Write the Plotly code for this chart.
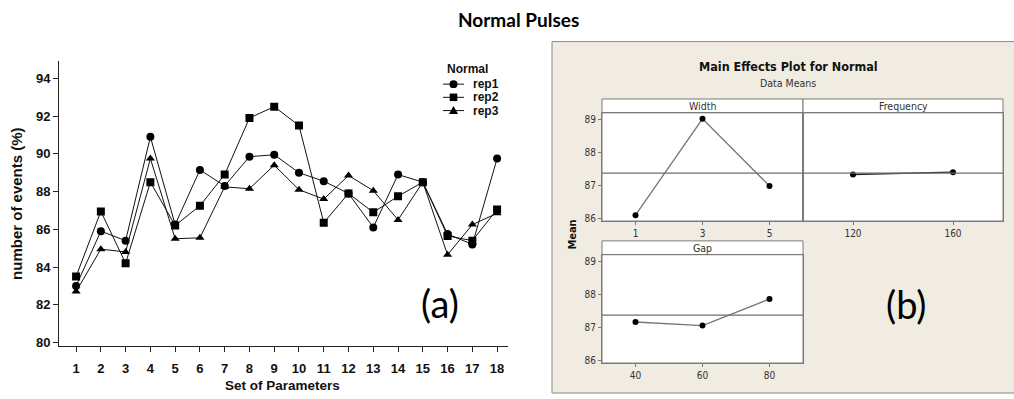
import plotly.graph_objects as go

W, H = 1014, 399

# ---------------- data: panel (a) ----------------
param_sets = list(range(1, 19))
rep1 = [83.0, 85.9, 85.4, 90.9, 86.25, 89.15, 88.3, 89.85, 89.95, 89.0, 88.55, 87.9, 86.1, 88.9, 88.5, 85.75, 85.2, 89.75]
rep2 = [83.5, 86.95, 84.2, 88.5, 86.2, 87.25, 88.9, 91.9, 92.5, 91.5, 86.35, 87.9, 86.9, 87.75, 88.5, 85.65, 85.4, 87.05]
rep3 = [82.7, 84.95, 84.8, 89.75, 85.5, 85.55, 88.25, 88.15, 89.4, 88.1, 87.6, 88.85, 88.05, 86.5, 88.5, 84.65, 86.25, 86.85]
series_names = ["rep1", "rep2", "rep3"]
y_ticks_a = [80, 82, 84, 86, 88, 90, 92, 94]

# ---------------- data: panel (b) ----------------
width_levels = [1, 3, 5]
width_means = [86.09, 89.03, 86.98]
freq_levels = [120, 160]
freq_means = [87.33, 87.40]
gap_levels = [40, 60, 80]
gap_means = [87.16, 87.05, 87.86]
overall_mean = 87.37
y_ticks_b = [86, 87, 88, 89]


def px(x):
    return x / W


def py(y):
    return 1 - y / H


fig = go.Figure()

symbols = ["circle", "square", "triangle-up"]
for name, vals, sym in zip(series_names, [rep1, rep2, rep3], symbols):
    fig.add_trace(go.Scatter(
        x=param_sets, y=vals, name=name, mode="lines+markers",
        line=dict(color="#111111", width=1),
        marker=dict(symbol=sym, size=8, color="#000000"),
        xaxis="x", yaxis="y", showlegend=False,
    ))

bline = dict(color="#777777", width=1.3)
bmark = dict(color="#000000", size=6)
fig.add_trace(go.Scatter(x=width_levels, y=width_means, mode="lines+markers", line=bline,
                         marker=bmark, xaxis="x2", yaxis="y2", showlegend=False))
fig.add_trace(go.Scatter(x=freq_levels, y=freq_means, mode="lines+markers", line=dict(color="#222222", width=1.3),
                         marker=bmark, xaxis="x3", yaxis="y3", showlegend=False))
fig.add_trace(go.Scatter(x=gap_levels, y=gap_means, mode="lines+markers", line=bline,
                         marker=bmark, xaxis="x4", yaxis="y4", showlegend=False))

tickfont_a = dict(family="Liberation Sans, Arial", size=13, color="#111111", weight="bold")
tickfont_b = dict(family="DejaVu Sans Condensed, Liberation Sans, Arial", size=10, color="#333333")
box_grey = "#7a7a7a"

wx = [px(602), px(803)]
fx = [px(803), px(1003)]
top_y = [py(223.3), py(114)]
bot_y = [py(366.7), py(257.3)]
yr_b = [85.91, 89.21]


def b_axis(**kw):
    d = dict(showline=True, mirror=True, linecolor=box_grey, ticks="outside", ticklen=3,
             tickcolor=box_grey, showgrid=False, zeroline=False, tickfont=tickfont_b)
    d.update(kw)
    return d


layout_axes = dict(
    xaxis=dict(domain=[px(59), px(508)], range=[0.31, 18.44], tickvals=param_sets,
               showline=True, linecolor="#222", linewidth=1, ticks="outside", ticklen=5,
               tickcolor="#222", showgrid=False, zeroline=False, tickfont=tickfont_a,
               ticklabelstandoff=5, anchor="y"),
    yaxis=dict(domain=[py(350), py(62)], range=[79.79, 94.9], tickvals=y_ticks_a,
               showline=True, linecolor="#222", linewidth=1, ticks="outside", ticklen=5,
               tickcolor="#222", showgrid=False, zeroline=False, tickfont=tickfont_a, anchor="x"),
    xaxis2=b_axis(domain=wx, range=[0, 6], tickvals=width_levels, anchor="y2"),
    yaxis2=b_axis(domain=top_y, range=yr_b, tickvals=y_ticks_b, anchor="x2"),
    xaxis3=b_axis(domain=fx, range=[100, 180], tickvals=freq_levels, anchor="y3"),
    yaxis3=b_axis(domain=top_y, range=yr_b, tickvals=y_ticks_b, anchor="x3", showticklabels=False, ticks=""),
    xaxis4=b_axis(domain=wx, range=[30, 90], tickvals=gap_levels, anchor="y4"),
    yaxis4=b_axis(domain=bot_y, range=yr_b, tickvals=y_ticks_b, anchor="x4"),
)

shapes = []
shapes.append(dict(type="rect", xref="paper", yref="paper", x0=px(552), x1=px(1020), y0=py(397), y1=py(42),
                   fillcolor="#f1ece2", line=dict(color="#8a8a8a", width=1), layer="below"))
for (x0, x1, ytop, ybot) in [(602, 803, 100, 223.3), (803, 1003, 100, 223.3), (602, 803, 243.3, 366.7)]:
    shapes.append(dict(type="rect", xref="paper", yref="paper", x0=px(x0), x1=px(x1), y0=py(ybot), y1=py(ytop),
                       fillcolor="#ffffff", line=dict(color=box_grey, width=1), layer="below"))
    shapes.append(dict(type="line", xref="paper", yref="paper", x0=px(x0), x1=px(x1),
                       y0=py(ytop + 14), y1=py(ytop + 14), line=dict(color=box_grey, width=1)))
for xr, yr in [("x2", "y2"), ("x3", "y3"), ("x4", "y4")]:
    shapes.append(dict(type="line", xref=f"{xr} domain", yref=yr, x0=0, x1=1,
                       y0=overall_mean, y1=overall_mean, line=dict(color="#6e6e6e", width=1.2)))

# manual legend for panel (a)
leg_rows = [85, 98.3, 111.7]
for (name, sym, yy) in zip(series_names, symbols, leg_rows):
    shapes.append(dict(type="line", xref="paper", yref="paper", x0=px(443), x1=px(464),
                       y0=py(yy), y1=py(yy), line=dict(color="#111", width=1)))
    cx = 453.5
    if sym == "circle":
        shapes.append(dict(type="circle", xref="paper", yref="paper", x0=px(cx - 4), x1=px(cx + 4),
                           y0=py(yy + 4), y1=py(yy - 4), fillcolor="#000", line=dict(width=0)))
    elif sym == "square":
        shapes.append(dict(type="rect", xref="paper", yref="paper", x0=px(cx - 3.8), x1=px(cx + 3.8),
                           y0=py(yy + 3.8), y1=py(yy - 3.8), fillcolor="#000", line=dict(width=0)))
    else:
        path = "M {:.5f},{:.5f} L {:.5f},{:.5f} L {:.5f},{:.5f} Z".format(
            px(cx - 4.5), py(yy + 3.5), px(cx + 4.5), py(yy + 3.5), px(cx), py(yy - 4.5))
        shapes.append(dict(type="path", xref="paper", yref="paper", path=path,
                           fillcolor="#000", line=dict(width=0)))


def ann(text, x, y, size, family, color="#111", angle=0, xanchor="center"):
    return dict(text=text, x=px(x), y=py(y), xref="paper", yref="paper", showarrow=False,
                xanchor=xanchor, yanchor="middle", textangle=angle,
                font=dict(family=family, size=size, color=color))


ARIAL = "Liberation Sans, Arial"
TAH = "DejaVu Sans Condensed, Liberation Sans"
annotations = [
    ann("<b>Normal Pulses</b>", 518, 20, 19, "Lato, Open Sans", "#000"),
    ann("<b>Set of Parameters</b>", 282, 389, 13.5, ARIAL),
    ann("<b>number of events (%)</b>", 17, 206, 15, ARIAL, angle=-90),
    ann("(a)", 440, 306, 38, "Lato, Open Sans", "#000"),
    ann("(b)", 906, 307, 38, "Lato, Open Sans", "#000"),
    ann("<b>Main Effects Plot for Normal</b>", 788, 67, 12.5, TAH),
    ann("Data Means", 788, 84, 10.5, TAH, "#333"),
    ann("<b>Mean</b>", 573, 237, 11, TAH, angle=-90),
    ann("<b>Normal</b>", 445, 70, 12, ARIAL, xanchor="left"),
]
for name, yy in zip(series_names, leg_rows):
    annotations.append(ann("<b>" + name + "</b>", 471, yy, 12, ARIAL, xanchor="left"))
for label, cx, ytop in [("Width", 702.5, 100), ("Frequency", 903, 100), ("Gap", 702.5, 243.3)]:
    annotations.append(ann(label, cx, ytop + 7, 10.5, TAH, "#333"))

fig.update_layout(
    width=W, height=H, margin=dict(l=0, r=0, t=0, b=0),
    paper_bgcolor="#ffffff", plot_bgcolor="rgba(0,0,0,0)",
    shapes=shapes, annotations=annotations, showlegend=False,
    **layout_axes,
)

fig.write_html("out.html")
